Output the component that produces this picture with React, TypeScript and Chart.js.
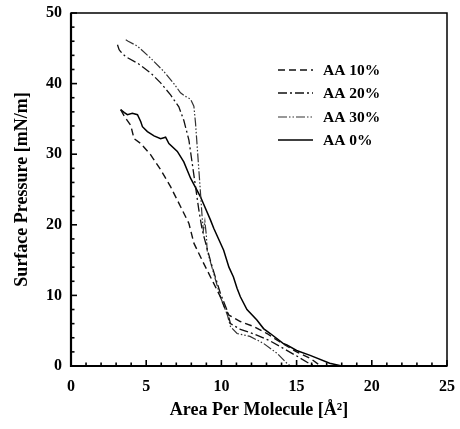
import React, { useEffect, useRef } from "react";
import { Chart, registerables } from "chart.js";

Chart.register(...registerables);

type P = { x: number; y: number };

const seriesNames = ["AA 10%", "AA 20%", "AA 30%", "AA 0%"];

const aa10: P[] = [
  { x: 3.3, y: 36.3 }, { x: 3.6, y: 35.2 }, { x: 3.97, y: 34.1 }, { x: 4.19, y: 32.2 },
  { x: 4.64, y: 31.5 }, { x: 5.3, y: 29.9 }, { x: 5.96, y: 27.8 }, { x: 6.62, y: 25.4 },
  { x: 7.28, y: 22.6 }, { x: 7.84, y: 20.2 }, { x: 8.17, y: 17.4 }, { x: 8.83, y: 14.5 },
  { x: 9.49, y: 11.7 }, { x: 9.93, y: 9.8 }, { x: 10.26, y: 8.0 }, { x: 10.5, y: 7.2 },
  { x: 11.26, y: 6.3 }, { x: 12.14, y: 5.6 }, { x: 13.03, y: 4.6 }, { x: 13.9, y: 3.4 },
  { x: 15.0, y: 2.0 }, { x: 15.9, y: 1.1 }, { x: 16.6, y: 0 },
];

const aa20: P[] = [
  { x: 3.09, y: 45.5 }, { x: 3.2, y: 44.8 }, { x: 3.31, y: 44.5 }, { x: 3.64, y: 43.8 },
  { x: 4.42, y: 42.9 }, { x: 5.3, y: 41.5 }, { x: 5.96, y: 40.1 }, { x: 6.62, y: 38.4 },
  { x: 7.17, y: 36.7 }, { x: 7.5, y: 34.8 }, { x: 7.84, y: 32.0 }, { x: 8.06, y: 28.7 },
  { x: 8.28, y: 25.4 }, { x: 8.5, y: 22.1 }, { x: 8.72, y: 19.3 }, { x: 8.94, y: 17.5 },
  { x: 9.38, y: 14.1 }, { x: 9.93, y: 10.3 }, { x: 10.38, y: 7.9 }, { x: 10.6, y: 6.0 },
  { x: 11.26, y: 5.2 }, { x: 12.2, y: 4.5 }, { x: 13.2, y: 3.6 }, { x: 14.2, y: 2.4 },
  { x: 15.1, y: 1.3 }, { x: 15.8, y: 0.4 }, { x: 16.2, y: 0 },
];

const aa30: P[] = [
  { x: 3.64, y: 46.2 }, { x: 3.8, y: 46.0 }, { x: 4.42, y: 45.3 }, { x: 5.3, y: 43.6 },
  { x: 6.18, y: 41.7 }, { x: 6.84, y: 40.0 }, { x: 7.28, y: 38.7 }, { x: 7.6, y: 38.2 },
  { x: 7.95, y: 37.8 }, { x: 8.17, y: 36.8 }, { x: 8.28, y: 34.4 }, { x: 8.39, y: 31.1 },
  { x: 8.5, y: 27.8 }, { x: 8.61, y: 24.5 }, { x: 8.72, y: 21.1 }, { x: 8.8, y: 19.2 },
  { x: 8.9, y: 20.5 }, { x: 9.0, y: 18.5 }, { x: 9.05, y: 16.4 }, { x: 9.49, y: 13.1 },
  { x: 9.93, y: 9.8 }, { x: 10.4, y: 7.2 }, { x: 10.6, y: 5.6 }, { x: 11.04, y: 4.6 },
  { x: 11.9, y: 4.2 }, { x: 12.8, y: 3.2 }, { x: 13.7, y: 1.8 }, { x: 14.35, y: 0.4 },
  { x: 14.6, y: 0 },
];

const aa0: P[] = [
  { x: 3.3, y: 36.3 }, { x: 3.55, y: 35.9 }, { x: 3.75, y: 35.6 }, { x: 4.08, y: 35.8 },
  { x: 4.42, y: 35.6 }, { x: 4.64, y: 34.6 }, { x: 4.75, y: 33.9 }, { x: 5.08, y: 33.2 },
  { x: 5.52, y: 32.6 }, { x: 5.96, y: 32.2 }, { x: 6.29, y: 32.4 }, { x: 6.51, y: 31.5 },
  { x: 7.07, y: 30.4 }, { x: 7.5, y: 28.9 }, { x: 7.95, y: 26.6 }, { x: 8.6, y: 24.0 },
  { x: 9.27, y: 20.7 }, { x: 9.49, y: 19.5 }, { x: 10.15, y: 16.4 }, { x: 10.5, y: 14.0 },
  { x: 10.8, y: 12.6 }, { x: 11.04, y: 11.0 }, { x: 11.26, y: 9.8 }, { x: 11.7, y: 8.0 },
  { x: 12.36, y: 6.5 }, { x: 12.8, y: 5.3 }, { x: 13.25, y: 4.6 }, { x: 14.1, y: 3.2 },
  { x: 14.35, y: 3.0 }, { x: 15.0, y: 2.2 }, { x: 15.9, y: 1.5 }, { x: 17.2, y: 0.4 },
  { x: 18.0, y: 0 },
];

const xTicks = [0, 5, 10, 15, 20, 25];
const yTicks = [0, 10, 20, 30, 40, 50];

const FONT = "'Liberation Serif', 'Times New Roman', serif";

const styles = [
  { dash: [7, 4], width: 1.4, color: "#111" },
  { dash: [9, 3, 2, 3], width: 1.3, color: "#111" },
  { dash: [9, 2, 1.5, 2, 1.5, 2], width: 1.2, color: "#333" },
  { dash: [], width: 1.5, color: "#000" },
];

const framePlugin = {
  id: "frameTicks",
  afterDatasetsDraw(chart: any) {
    const { ctx, chartArea, scales } = chart;
    const { left, right, top, bottom } = chartArea;
    ctx.save();
    ctx.strokeStyle = "#000";
    ctx.setLineDash([]);
    ctx.lineWidth = 1.5;
    ctx.strokeRect(left, top, right - left, bottom - top);
    ctx.lineWidth = 2.2;
    ctx.beginPath();
    ctx.moveTo(left, top);
    ctx.lineTo(left, bottom);
    ctx.lineTo(right, bottom);
    ctx.stroke();
    ctx.lineWidth = 1.6;
    for (let v = 0; v <= 25; v += 1) {
      const px = scales.x.getPixelForValue(v);
      const len = v % 5 === 0 ? 6 : 3.5;
      ctx.beginPath();
      ctx.moveTo(px, bottom);
      ctx.lineTo(px, bottom - len);
      ctx.stroke();
    }
    for (let v = 0; v <= 50; v += 2) {
      const py = scales.y.getPixelForValue(v);
      const len = v % 10 === 0 ? 6 : 3.5;
      ctx.beginPath();
      ctx.moveTo(left, py);
      ctx.lineTo(left + len, py);
      ctx.stroke();
    }
    // legend
    const rows = [70, 93, 117, 140];
    ctx.font = `bold 15.5px ${FONT}`;
    ctx.textBaseline = "middle";
    ctx.fillStyle = "#000";
    chart.data.datasets.forEach((ds: any, i: number) => {
      const y = rows[i];
      ctx.strokeStyle = ds.borderColor;
      ctx.lineWidth = ds.borderWidth;
      ctx.setLineDash(ds.borderDash || []);
      ctx.beginPath();
      ctx.moveTo(278, y);
      ctx.lineTo(313, y);
      ctx.stroke();
      ctx.setLineDash([]);
      ctx.fillText(ds.label, 323, y + 1);
    });
    ctx.restore();
  },
};

export default function App() {
  const ref = useRef<HTMLCanvasElement | null>(null);
  useEffect(() => {
    document.body.style.margin = "0";
    const canvas = ref.current!;
    const seriesData = [aa10, aa20, aa30, aa0];
    const chart = new Chart(canvas, {
      type: "line",
      data: {
        datasets: seriesData.map((d, i) => ({
          label: seriesNames[i],
          data: d,
          borderColor: styles[i].color,
          borderWidth: styles[i].width,
          borderDash: styles[i].dash,
          pointRadius: 0,
          tension: 0,
          fill: false,
        })),
      },
      options: {
        animation: false,
        responsive: false,
        devicePixelRatio: 1,
        layout: { padding: { top: 13, right: 13, left: 0, bottom: 0 } },
        plugins: { legend: { display: false }, tooltip: { enabled: false } },
        scales: {
          x: {
            type: "linear",
            min: 0,
            max: 25,
            afterFit: (s: any) => {
              s.height = 63;
              s.paddingLeft = 0;
              s.paddingRight = 0;
            },
            afterBuildTicks: (s: any) => { s.ticks = xTicks.map((v) => ({ value: v })); },
            grid: { display: false, drawTicks: false },
            border: { display: false },
            ticks: {
              padding: 11,
              color: "#000",
              font: { family: FONT, size: 16, weight: "bold" },
              maxRotation: 0,
            },
            title: {
              display: true,
              text: "Area Per Molecule [Å²]",
              color: "#000",
              font: { family: FONT, size: 18, weight: "bold" },
              padding: { top: 0, bottom: 8 },
            },
          },
          y: {
            type: "linear",
            min: 0,
            max: 50,
            afterFit: (s: any) => {
              s.width = 71;
              s.paddingTop = 0;
              s.paddingBottom = 0;
            },
            afterBuildTicks: (s: any) => { s.ticks = yTicks.map((v) => ({ value: v })); },
            grid: { display: false, drawTicks: false },
            border: { display: false },
            ticks: {
              padding: 9,
              color: "#000",
              font: { family: FONT, size: 16, weight: "bold" },
            },
            title: {
              display: true,
              text: "Surface Pressure [mN/m]",
              color: "#000",
              font: { family: FONT, size: 18, weight: "bold" },
              padding: { top: 12, bottom: 0 },
            },
          },
        },
      },
      plugins: [framePlugin],
    } as any);
    return () => chart.destroy();
  }, []);
  return (
    <div style={{ width: 460, height: 429, background: "#fff" }}>
      <canvas ref={ref} width={460} height={429} style={{ display: "block" }} />
    </div>
  );
}
